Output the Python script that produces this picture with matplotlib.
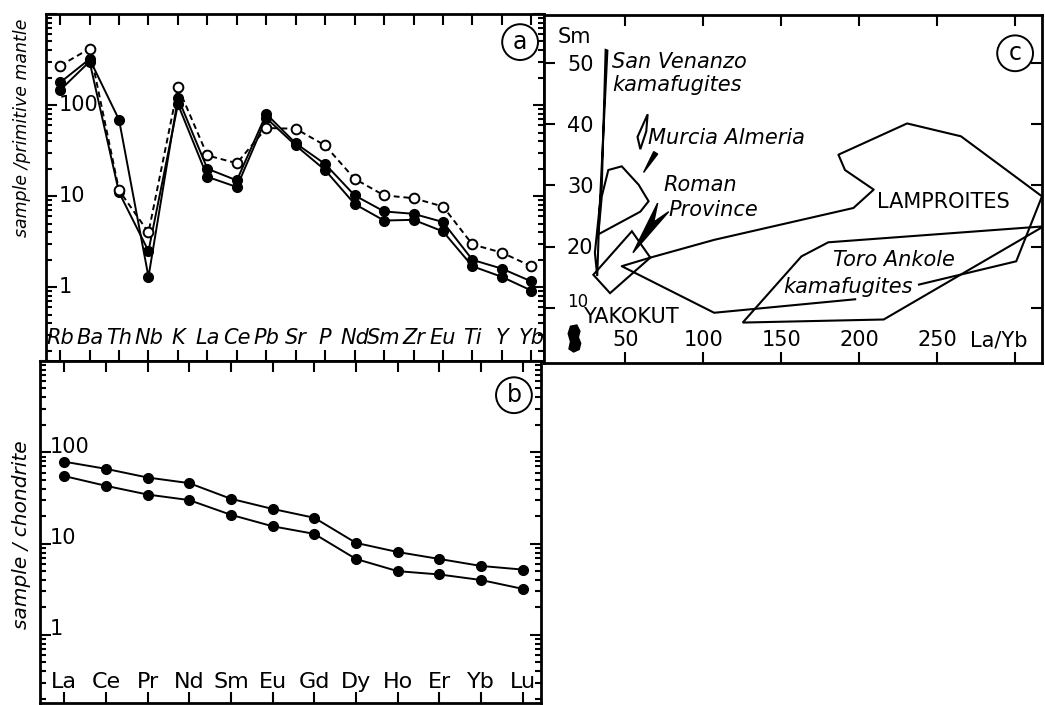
import matplotlib
matplotlib.use('Agg')
import matplotlib.pyplot as plt
import matplotlib.font_manager as fm
import matplotlib.transforms as mtrans
from matplotlib.ticker import LogLocator, NullFormatter, NullLocator

# pick a narrow face if there is one
names = set(f.name for f in fm.fontManager.ttflist)
if 'Liberation Sans Narrow' in names:
    plt.rcParams['font.family'] = ['Liberation Sans Narrow', 'DejaVu Sans']
else:
    plt.rcParams['font.family'] = ['DejaVu Sans']

# ---- panel a : primitive mantle normalised
elements_a = ['Rb', 'Ba', 'Th', 'Nb', 'K', 'La', 'Ce', 'Pb', 'Sr', 'P', 'Nd', 'Sm', 'Zr', 'Eu', 'Ti', 'Y', 'Yb']
pm_one = [177, 320, 69, 1.3, 120, 20, 14.9, 80, 38, 22.5, 10.2, 6.8, 6.4, 5.2, 2.0, 1.6, 1.16]
pm_two = [146, 300, 11, 2.5, 102, 16.3, 12.6, 72, 36, 19.3, 8.2, 5.4, 5.5, 4.1, 1.7, 1.3, 0.92]
pm_open = [271, 416, 11.6, 4.0, 158, 28, 23, 56, 55, 36, 15.5, 10.2, 9.5, 7.7, 2.95, 2.4, 1.7]

# ---- panel b : chondrite normalised REE
ree = ['La', 'Ce', 'Pr', 'Nd', 'Sm', 'Eu', 'Gd', 'Dy', 'Ho', 'Er', 'Yb', 'Lu']
ch_high = [79, 66, 53, 46, 31, 24, 19.2, 10.2, 8.1, 6.8, 5.7, 5.2]
ch_low = [55, 43, 34.5, 30, 20.7, 15.5, 12.8, 6.8, 5.0, 4.6, 4.0, 3.2]

# ---- panel c : Sm vs La/Yb fields
sanven_x = [37.5, 35.0, 30.6, 32.1, 33.4, 38.6]
sanven_y = [52.1, 29.8, 19.0, 15.2, 24.9, 52.0]
murcia_x = [39.2, 47.8, 58.6, 65.0, 59.7, 32.8, 35.0]
murcia_y = [32.5, 33.1, 30.1, 27.4, 25.7, 22.0, 28.2]
sliver_x = [64.4, 57.9, 59.7, 63.5]
sliver_y = [41.6, 37.9, 35.9, 38.8]
murcia_arrow_x = [68.3, 70.8, 61.8]
murcia_arrow_y = [35.5, 35.1, 32.1]
roman_x = [29.6, 54.3, 66.1, 40.3]
roman_y = [15.4, 22.5, 18.2, 12.4]
roman_arrow_x = [70.8, 55.0, 77.9, 68.3]
roman_arrow_y = [27.1, 19.0, 25.7, 24.0]
lamp_x = [238.2, 300.5, 317, 265.1, 230.6, 186.6, 190.8, 209.2, 196.2, 107.0, 66.1, 47.8, 107.0, 197.3]
lamp_y = [13.8, 17.6, 28.2, 38.0, 40.1, 35.0, 32.5, 29.3, 26.3, 21.1, 18.2, 16.8, 9.2, 11.4]
toro_x = [125.3, 215.6, 318, 180.1, 162.9]
toro_y = [7.6, 8.1, 23.3, 20.7, 18.4]
yakokut_x = [15, 19, 21, 20, 21.5, 20.5, 17, 14, 15, 13.5]
yakokut_y = [7.0, 7.2, 6.2, 5.2, 4.2, 3.2, 2.8, 3.3, 4.5, 5.8]
c_xticks = [50, 100, 150, 200, 250, 300]
c_yticks = [10, 20, 30, 40, 50]

W, H = 1045, 705
fig = plt.figure(figsize=(W / 100, H / 100), dpi=100)


def box(l, t, r, b):
    return [l / W, 1 - b / H, (r - l) / W, (b - t) / H]


ax_a = fig.add_axes(box(46, 14, 544, 361))
ax_b = fig.add_axes(box(40, 361, 541, 703))
ax_c = fig.add_axes(box(544, 15, 1042, 363))

for ax in (ax_a, ax_b, ax_c):
    for s in ax.spines.values():
        s.set_linewidth(2)
    ax.tick_params(which='both', direction='in', top=True, right=True,
                   labelleft=False, labelbottom=False, width=1.5)
    ax.tick_params(which='major', length=8)
    ax.tick_params(which='minor', length=4)


def circled(ax, x, y, s):
    ax.text(x, y, s, transform=ax.transAxes, ha='center', va='center', fontsize=17,
            bbox=dict(boxstyle='circle,pad=0.25', fc='white', ec='black', lw=1.4))


def log_axis(ax):
    ax.set_yscale('log')
    ax.yaxis.set_major_locator(LogLocator(base=10))
    ax.yaxis.set_minor_locator(LogLocator(base=10, subs=range(2, 10)))
    ax.yaxis.set_minor_formatter(NullFormatter())
    ax.xaxis.set_minor_locator(NullLocator())


# ---------------- a
xa = list(range(len(elements_a)))
ax_a.plot(xa, pm_one, '-', color='black', lw=1.4, marker='o', ms=7, zorder=3)
ax_a.plot(xa, pm_two, '-', color='black', lw=1.4, marker='o', ms=7, zorder=3)
ax_a.plot(xa, pm_open, color='black', lw=1.4, ls=(0, (3, 2)), marker='o', ms=7,
          mfc='white', mew=1.4, zorder=4)
log_axis(ax_a)
ax_a.set_ylim(0.155, 1000)
ax_a.set_xlim(-0.48, 16.43)
ax_a.set_xticks(xa)
tr = mtrans.blended_transform_factory(ax_a.transAxes, ax_a.transData)
for v, s in [(100, '100'), (10, '10'), (1, '1')]:
    ax_a.text(0.026, v, s, transform=tr, ha='left', va='center', fontsize=15)
tr = mtrans.blended_transform_factory(ax_a.transData, ax_a.transAxes)
for i, s in enumerate(elements_a):
    ax_a.text(i, 0.065, s, transform=tr, ha='center', va='center', fontsize=15, style='italic')
circled(ax_a, 0.952, 0.919, 'a')

# ---------------- b
xb = list(range(len(ree)))
ax_b.plot(xb, ch_high, '-', color='black', lw=1.4, marker='o', ms=7)
ax_b.plot(xb, ch_low, '-', color='black', lw=1.4, marker='o', ms=7)
log_axis(ax_b)
ax_b.set_ylim(0.18, 1000)
ax_b.set_xlim(-0.58, 11.44)
ax_b.set_xticks(xb)
tr = mtrans.blended_transform_factory(ax_b.transAxes, ax_b.transData)
for v, s in [(100, '100'), (10, '10'), (1, '1')]:
    ax_b.text(0.02, v * 1.15, s, transform=tr, ha='left', va='center', fontsize=15)
tr = mtrans.blended_transform_factory(ax_b.transData, ax_b.transAxes)
for i, s in enumerate(ree):
    ax_b.text(i, 0.06, s, transform=tr, ha='center', va='center', fontsize=16)
circled(ax_b, 0.946, 0.90, 'b')

fig.text(22 / W, 1 - 128 / H, 'sample /primitive mantle', rotation=90, ha='center',
         va='center', fontsize=12.5, style='italic')
fig.text(22 / W, 1 - 535 / H, 'sample / chondrite', rotation=90, ha='center',
         va='center', fontsize=14.5, style='italic')

# ---------------- c
ax_c.set_xlim(-2, 317)
ax_c.set_ylim(1, 57.8)
ax_c.set_xticks(c_xticks)
ax_c.set_yticks(c_yticks)
lw = 1.5
ax_c.fill(sanven_x, sanven_y, fc='none', ec='black', lw=lw)
ax_c.fill(murcia_x, murcia_y, fc='none', ec='black', lw=lw)
ax_c.fill(sliver_x, sliver_y, fc='none', ec='black', lw=lw)
ax_c.fill(murcia_arrow_x, murcia_arrow_y, fc='black', ec='black', lw=1)
ax_c.fill(roman_x, roman_y, fc='none', ec='black', lw=lw)
ax_c.fill(roman_arrow_x, roman_arrow_y, fc='black', ec='black', lw=1)
ax_c.plot(lamp_x, lamp_y, color='black', lw=lw)
ax_c.fill(toro_x, toro_y, fc='none', ec='black', lw=lw)
ax_c.fill(yakokut_x, yakokut_y, fc='black', ec='black', lw=1)

ax_c.text(41.7, 50.2, 'San Venanzo', style='italic', fontsize=15, va='center')
ax_c.text(41.7, 46.4, 'kamafugites', style='italic', fontsize=15, va='center')
ax_c.text(64.7, 37.7, 'Murcia Almeria', style='italic', fontsize=15, va='center')
ax_c.text(74.4, 30.1, 'Roman', style='italic', fontsize=15, va='center')
ax_c.text(77.6, 26.0, 'Province', style='italic', fontsize=15, va='center')
ax_c.text(211.5, 27.3, 'LAMPROITES', fontsize=15, va='center')
ax_c.text(183.3, 17.8, 'Toro Ankole', style='italic', fontsize=15, va='center')
ax_c.text(151.3, 13.4, 'kamafugites', style='italic', fontsize=15, va='center')
ax_c.text(23.1, 8.5, 'YAKOKUT', fontsize=15, va='center')
ax_c.text(7, 54.2, 'Sm', fontsize=15, va='center')

tr = mtrans.blended_transform_factory(ax_c.transAxes, ax_c.transData)
for v in c_yticks:
    if v == 10:
        ax_c.text(0.046, v + 0.9, str(v), transform=tr, ha='left', va='center', fontsize=12)
    else:
        ax_c.text(0.046, v - 0.3, str(v), transform=tr, ha='left', va='center', fontsize=15)
for v in c_xticks[:-1]:
    ax_c.text(v, 4.7, str(v), ha='center', va='center', fontsize=15)
ax_c.text(289, 4.7, 'La/Yb', ha='center', va='center', fontsize=15)
circled(ax_c, 0.946, 0.89, 'c')

fig.savefig('out.png', dpi=100, facecolor='white')
